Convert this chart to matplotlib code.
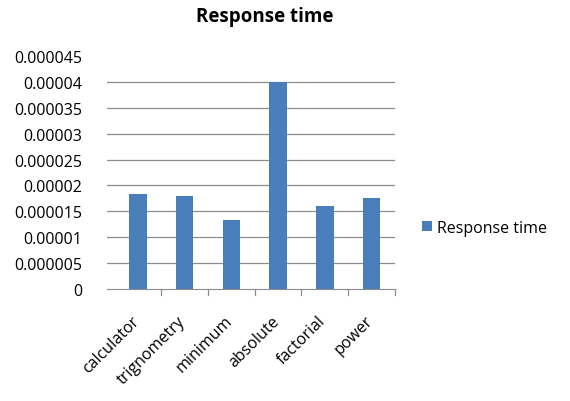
import matplotlib
matplotlib.use("Agg")
import matplotlib.pyplot as plt
import matplotlib.transforms as mtransforms
import numpy as np

categories = ["calculator", "trignometry", "minimum", "absolute", "factorial", "power"]
values = [0.0000183, 0.000018, 0.0000133, 0.00004, 0.0000161, 0.0000176]
yticks = [0, 0.000005, 0.00001, 0.000015, 0.00002, 0.000025, 0.00003, 0.000035, 0.00004, 0.000045]
ytick_labels = ["0", "0.000005", "0.00001", "0.000015", "0.00002", "0.000025",
                "0.00003", "0.000035", "0.00004", "0.000045"]
series_name = "Response time"

plt.rcParams['font.family'] = ['Open Sans', 'DejaVu Sans']

fig = plt.figure(figsize=(5.70, 4.02), dpi=100)
W, H = 570, 402
left, right = 107, 395
top, bottom = 57, 290
ax = fig.add_axes([left / W, 1 - bottom / H, (right - left) / W, (bottom - top) / H])

x = np.arange(len(categories))
bar_color = "#4a7ebb"
bars = ax.bar(x, values, width=0.37, color=bar_color, zorder=3, label=series_name)

ax.set_xlim(-0.66, len(categories) - 0.5)
ax.set_ylim(0, 0.000045)
ax.set_yticks(yticks)
ax.set_yticklabels(ytick_labels, fontsize=11.5)
for yv in yticks[1:-1]:
    ax.axhline(yv, color="#8c8c8c", lw=0.9, zorder=1)

for s in ["top", "right", "left"]:
    ax.spines[s].set_visible(False)
ax.spines["bottom"].set_color("#8c8c8c")
ax.tick_params(axis="y", length=0, pad=18)

ax.set_xticks(x)
ax.set_xticklabels(categories, rotation=45, ha="right", rotation_mode="anchor", fontsize=11.5)
ax.tick_params(axis="x", length=0, pad=17)
offset = mtransforms.ScaledTranslation(-7 / 100, 0, fig.dpi_scale_trans)
for lbl in ax.get_xticklabels():
    lbl.set_transform(lbl.get_transform() + offset)
# category boundary tick marks
for b in np.arange(len(categories)) + 0.5:
    ax.plot([b, b], [0, -0.0000012], color="#8c8c8c", lw=0.9, clip_on=False)

fig.text(265 / W, 1 - 17 / H, "Response time", ha="center", va="center",
         fontsize=13.5, fontweight="bold")

leg = fig.legend(handles=[bars], labels=[series_name], loc="center left",
                 bbox_to_anchor=(408 / W, 1 - 229 / H), frameon=False,
                 fontsize=11.5, handlelength=0.6, handleheight=0.6, handletextpad=0.3)

fig.savefig("out.png", dpi=100)
